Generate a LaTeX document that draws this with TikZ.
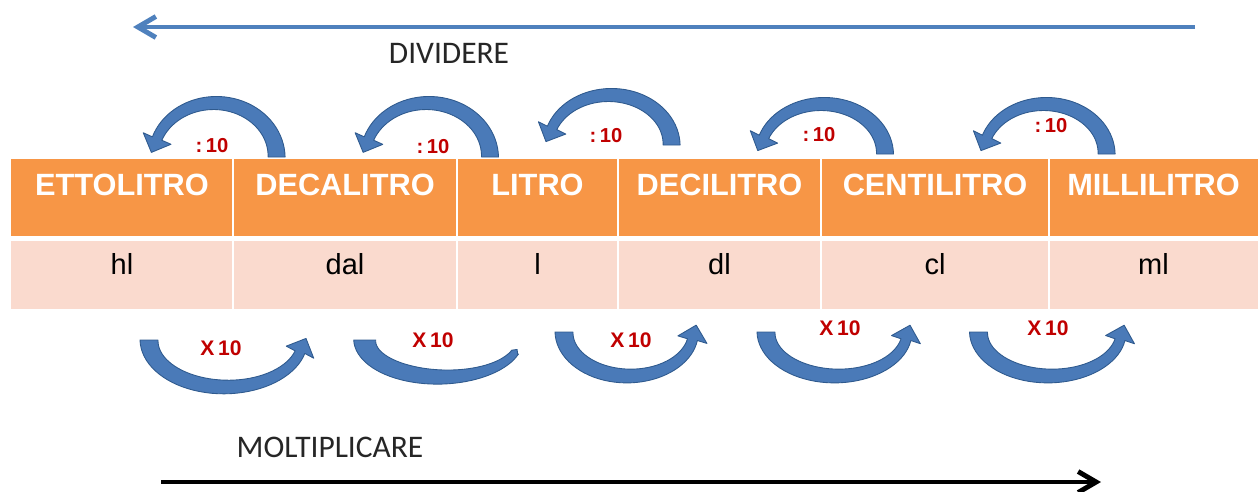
\documentclass[tikz,border=0pt]{standalone}
\usepackage{fontspec}
\setmainfont{Liberation Sans}
\newfontfamily\calib{Carlito}
\usetikzlibrary{arrows.meta}
\definecolor{hdrorange}{HTML}{F79646}
\definecolor{rowpink}{HTML}{FADACE}
\definecolor{arrblue}{HTML}{4A7AB8}
\definecolor{arredge}{HTML}{2F5A8E}
\definecolor{linblue}{HTML}{4F81BD}
\definecolor{lblred}{HTML}{C00000}
% curved band arrow: #1 cx, #2 cy, #3 rx, #4 ry, #5 end angle, #6 rotation,
% #7 tail width, #8 end width, #9 head half-width (also head length)
\newcommand{\curvarrow}[9]{%
\begin{scope}[shift={(#1,#2)}, yscale=-1, rotate=#6]
\pgfmathsetmacro\Cth{cos(#5)}%
\pgfmathsetmacro\Sth{sin(#5)}%
\pgfmathsetmacro\Tx{-(#3)*\Sth}%
\pgfmathsetmacro\Ty{(#4)*\Cth}%
\pgfmathsetmacro\Tn{veclen(\Tx,\Ty)}%
\pgfmathsetmacro\Tx{\Tx/\Tn}%
\pgfmathsetmacro\Ty{\Ty/\Tn}%
\pgfmathsetmacro\Px{(#3)*\Cth}%
\pgfmathsetmacro\Py{(#4)*\Sth}%
\fill[curvefill] plot[domain=0:#5, samples=40, variable=\t]
   ({(#3+(#7-(#7-#8)*\t/#5)/2)*cos(\t)}, {(#4+(#7-(#7-#8)*\t/#5)/2)*sin(\t)})
 -- ({\Px+#9*\Ty}, {\Py-#9*\Tx})
 -- ({\Px+#9*\Tx}, {\Py+#9*\Ty})
 -- ({\Px-#9*\Ty}, {\Py+#9*\Tx})
 -- plot[domain=#5:0, samples=40, variable=\t]
   ({(#3-(#7-(#7-#8)*\t/#5)/2)*cos(\t)}, {(#4-(#7-(#7-#8)*\t/#5)/2)*sin(\t)})
 -- cycle;
\end{scope}}
\begin{document}
\begin{tikzpicture}[x=0.02cm, y=-0.02cm,
  hdr/.style={anchor=base, inner sep=0pt, text=white,
    font=\fontsize{17.5pt}{20pt}\selectfont\bfseries},
  sym/.style={anchor=base, inner sep=0pt, text=black,
    font=\fontsize{16.5pt}{19pt}\selectfont},
  divlbl/.style={anchor=base, inner sep=0pt, text=lblred,
    font=\fontsize{11.5pt}{13pt}\selectfont\bfseries},
  mullbl/.style={anchor=base, inner sep=0pt, text=lblred,
    font=\fontsize{12pt}{14pt}\selectfont\bfseries},
  dirlbl/.style={anchor=base, inner sep=0pt, text=black!85,
    font=\fontsize{17.9pt}{20pt}\selectfont\calib},
  curvefill/.style={fill=arrblue, draw=arredge, line width=0.5pt, line join=round},
  sepline/.style={draw=white, line width=1.2pt},
  bigarrow/.style={line width=2.8pt, -{Straight Barb[length=0.36cm, width=0.42cm, line width=2.8pt]}}
]
\useasboundingbox (0,0) rectangle (1258,491);
% table
\fill[hdrorange] (11,159) rectangle (1258,236);
\fill[rowpink] (11,241) rectangle (1258,309);
\foreach \xs in {233,457,618,821,1049}
  \draw[sepline] (\xs,159) -- (\xs,309);
% header texts
\node[hdr] (h1) at (122,195) {ETTOLITRO};
\node[hdr] (h2) at (345,195) {DECALITRO};
\node[hdr] (h3) at (537.5,195) {LITRO};
\node[hdr] (h4) at (719.5,195) {DECILITRO};
\node[hdr] (h5) at (935,195) {CENTILITRO};
\node[hdr] (h6) at (1153.5,195) {MILLILITRO};
% symbols
\node[sym] (s1) at (122,274) {hl};
\node[sym] (s2) at (345,274) {dal};
\node[sym] (s3) at (537.5,274) {l};
\node[sym] (s4) at (719.5,274) {dl};
\node[sym] (s5) at (935,274) {cl};
\node[sym] (s6) at (1153.5,274) {ml};
% top curved arrows (divide)
\curvarrow{215}{157}{61.6}{54}{160}{0}{17}{10}{15}
\curvarrow{427.6}{157}{62.4}{54}{160}{0}{17}{10}{15}
\curvarrow{610}{145}{61.6}{50}{160}{0}{17}{10}{15}
\curvarrow{822.6}{154}{62.4}{50}{160}{0}{17}{10}{15}
\curvarrow{1045}{154}{61.6}{50}{160}{0}{17}{10}{15}
\node[divlbl] (d1) at (212,152) {:\,10};
\node[divlbl] (d2) at (433,153) {:\,10};
\node[divlbl] (d3) at (606,142) {:\,10};
\node[divlbl] (d4) at (819,141) {:\,10};
\node[divlbl] (d5) at (1051,132) {:\,10};
% bottom curved arrows (multiply)
\curvarrow{225.8}{340}{76.8}{47}{165}{180}{18}{10}{15}
\curvarrow{442}{340}{77.3}{37}{160}{180}{22}{8}{4}
\curvarrow{628.7}{332}{64.7}{44}{170}{180}{18}{10}{15}
\curvarrow{836.5}{332}{70.5}{44}{170}{180}{18}{10}{15}
\curvarrow{1049.8}{332}{71.3}{44}{170}{180}{18}{10}{15}
\node[mullbl] (m1) at (221,355) {X\,10};
\node[mullbl] (m2) at (433,347) {X\,10};
\node[mullbl] (m3) at (631,347) {X\,10};
\node[mullbl] (m4) at (840,335) {X\,10};
\node[mullbl] (m5) at (1048,335) {X\,10};
% direction arrows
\coordinate (divR) at (1195,27);
\coordinate (divL) at (133,27);
\draw[bigarrow, draw=linblue] (divR) -- (divL);
\node[dirlbl] (div) at (449,63) {DIVIDERE};
\coordinate (mulL) at (161,482);
\coordinate (mulR) at (1101,482);
\draw[bigarrow, draw=black] (mulL) -- (mulR);
\node[dirlbl] (mul) at (330,457) {MOLTIPLICARE};
\end{tikzpicture}
\end{document}
